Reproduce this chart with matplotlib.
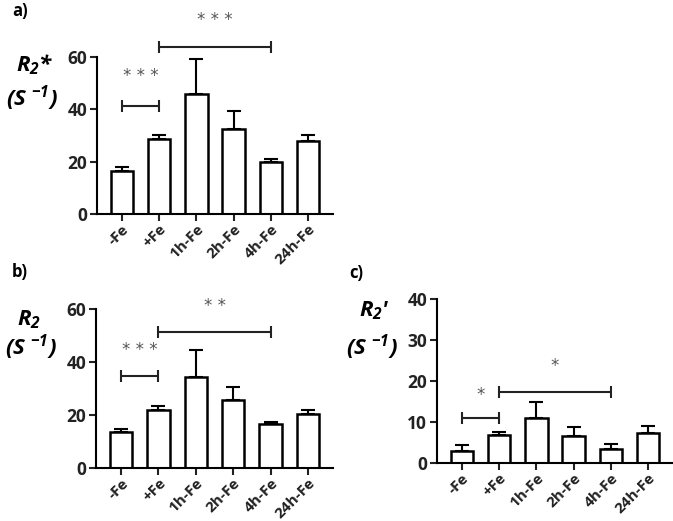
import matplotlib
matplotlib.use("Agg")
import matplotlib.pyplot as plt
import numpy as np

plt.rcParams['font.family'] = ['Open Sans', 'DejaVu Sans']
plt.rcParams['font.weight'] = 'bold'
plt.rcParams['mathtext.default'] = 'regular'

categories = ["-Fe", "+Fe", "1h-Fe", "2h-Fe", "4h-Fe", "24h-Fe"]

r2s_mean = [16.6, 28.7, 45.7, 32.5, 20.0, 27.9]
r2s_err = [1.4, 1.4, 13.7, 6.9, 1.1, 2.4]

r2_mean = [13.7, 21.8, 34.5, 25.6, 16.7, 20.5]
r2_err = [1.0, 1.7, 9.9, 5.1, 0.6, 1.5]

r2p_mean = [2.9, 6.9, 11.0, 6.6, 3.4, 7.3]
r2p_err = [1.4, 0.7, 3.9, 2.2, 1.2, 1.7]

# significance: (start index, end index, bracket height, star height, label)
sig_a = [(0, 1, 41.1, 52.6, "* * *"), (1, 4, 64.0, 74.0, "* * *")]
sig_b = [(0, 1, 34.6, 44.5, "* * *"), (1, 4, 51.4, 61.0, "* *")]
sig_c = [(0, 1, 10.9, 16.5, "*"), (1, 4, 17.2, 23.7, "*")]

W, H = 673, 521
fig = plt.figure(figsize=(W / 100, H / 100), dpi=100)


def make_ax(left, top, right, bottom):
    return fig.add_axes([left / W, 1 - bottom / H, (right - left) / W, (bottom - top) / H])


def panel(ax, means, errs, ymax, yticks, sigs):
    x = np.arange(len(categories))
    ax.bar(x, means, width=0.6, color='white', edgecolor='black', linewidth=1.8, zorder=2)
    ax.errorbar(x, means, yerr=[np.zeros(len(errs)), errs], fmt='none', ecolor='black',
                elinewidth=1.5, capsize=5, capthick=1.5, zorder=1)
    ax.set_xlim(-0.67, 5.67)
    ax.set_ylim(0, ymax)
    ax.set_yticks(yticks)
    ax.set_xticks(x)
    ax.set_xticklabels(categories, rotation=45, ha='right', rotation_mode='anchor')
    for s in ['top', 'right']:
        ax.spines[s].set_visible(False)
    for s in ['left', 'bottom']:
        ax.spines[s].set_linewidth(1.5)
    ax.tick_params(axis='both', width=1.5, length=5, direction='out', colors='#222222')
    ax.tick_params(axis='x', pad=1, labelsize=11)
    ax.tick_params(axis='y', pad=2, labelsize=12.5)
    for lab in ax.get_xticklabels() + ax.get_yticklabels():
        lab.set_fontweight('bold')
    for i0, i1, yb, ys, lab in sigs:
        ax.errorbar([(x[i0] + x[i1]) / 2], [yb], xerr=[(x[i1] - x[i0]) / 2], fmt='none',
                    ecolor='#222222', elinewidth=1.5, capsize=4, capthick=1.5, clip_on=False)
        ax.text((x[i0] + x[i1]) / 2, ys, lab, ha='center', va='center', fontsize=12,
                color='#555555', fontweight='normal', family='DejaVu Sans', clip_on=False)


ax_a = make_ax(97, 57, 333, 214)
panel(ax_a, r2s_mean, r2s_err, 60, [0, 20, 40, 60], sig_a)
ax_b = make_ax(96, 309, 333, 468)
panel(ax_b, r2_mean, r2_err, 60, [0, 20, 40, 60], sig_b)
ax_c = make_ax(437, 299, 673, 463)
panel(ax_c, r2p_mean, r2p_err, 40, [0, 10, 20, 30, 40], sig_c)

lab_kw = dict(ha='center', va='center', fontsize=16, fontweight='bold', style='italic')
sup = r"(S $^{\mathregular{-1}}$)"
fig.text(35 / W, 1 - 65 / H, r"$\mathregular{R_2}$*", **lab_kw)
fig.text(32 / W, 1 - 98 / H, sup, **lab_kw)
fig.text(29 / W, 1 - 320 / H, r"$\mathregular{R_2}$", **lab_kw)
fig.text(31 / W, 1 - 347 / H, sup, **lab_kw)
fig.text(374 / W, 1 - 311 / H, r"$\mathregular{R_2}$'", **lab_kw)
fig.text(372 / W, 1 - 347 / H, sup, **lab_kw)

pl_kw = dict(ha='left', va='center', fontsize=12, fontweight='bold')
fig.text(12 / W, 1 - 11 / H, "a)", **pl_kw)
fig.text(12 / W, 1 - 272 / H, "b)", **pl_kw)
fig.text(349 / W, 1 - 273 / H, "c)", **pl_kw)

fig.savefig("out.png", dpi=100)
